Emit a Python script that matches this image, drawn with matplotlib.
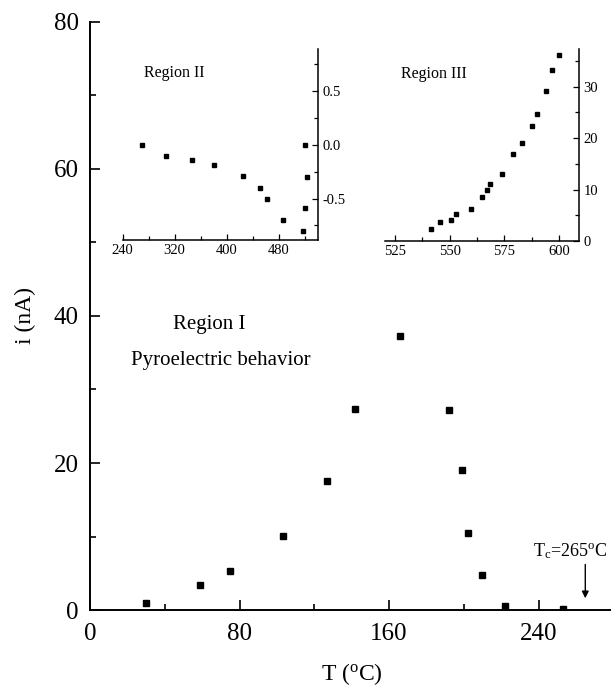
import matplotlib
matplotlib.use('Agg')
import matplotlib.pyplot as plt
import numpy as np

plt.rcParams['font.family'] = ['Liberation Serif', 'DejaVu Serif']
plt.rcParams['mathtext.fontset'] = 'custom'
plt.rcParams['mathtext.rm'] = 'Liberation Serif'
plt.rcParams['mathtext.it'] = 'Liberation Serif:italic'

# Region I: pyroelectric current peak
T1 = [30, 59, 75, 103, 127, 142, 166, 192, 199, 202, 210, 222, 253]
i1 = [1.0, 3.4, 5.3, 10.1, 17.5, 27.3, 37.3, 27.2, 19.1, 10.5, 4.7, 0.5, 0.2]

# Region II
T2 = [269, 306, 347, 381, 425, 452, 462, 486, 517, 520, 523, 520]
i2 = [0.0, -0.1, -0.146, -0.19, -0.29, -0.40, -0.50, -0.70, -0.80, -0.59, -0.30, 0.0]

# Region III
T3 = [541.6, 545.7, 550.6, 552.7, 559.9, 564.8, 566.9, 568.6, 573.8, 578.8,
      582.9, 587.8, 589.8, 594.0, 596.6, 600.0]
i3 = [2.3, 3.6, 4.0, 5.3, 6.2, 8.5, 9.9, 11.0, 13.1, 17.0,
      19.1, 22.4, 24.7, 29.1, 33.2, 36.2]

Tc = 265

fig = plt.figure(figsize=(6.11, 6.91), dpi=100)
ax = fig.add_axes([0.1473, 0.1172, 0.8565, 0.851])
ax.plot(T1, i1, 's', color='black', markersize=5)
ax.set_xlim(0, 280)
ax.set_ylim(0, 80)
ax.set_xticks([0, 80, 160, 240])
ax.set_xticks([40, 120, 200], minor=True)
ax.set_yticks([0, 20, 40, 60, 80])
ax.set_yticks([10, 30, 50, 70], minor=True)
for s in ['top', 'right']:
    ax.spines[s].set_visible(False)
for s in ['left', 'bottom']:
    ax.spines[s].set_linewidth(1.4)
ax.tick_params(which='both', direction='in', width=1.2, labelsize=18)
ax.tick_params(axis='x', pad=9)
ax.tick_params(axis='y', pad=8)
ax.tick_params(which='major', length=7)
ax.tick_params(which='minor', length=4.5)
ax.set_xlabel(r'T ($^{\mathrm{o}}$C)', fontsize=17, labelpad=12)
ax.set_ylabel('i (nA)', fontsize=17, labelpad=13)

ax.text(64, 38.8, 'Region I', fontsize=15, ha='center', va='center')
ax.text(70, 34.0, 'Pyroelectric behavior', fontsize=15, ha='center', va='center')
ax.text(257, 6.7, r'T$_\mathrm{c}$=265$^{\mathrm{o}}$C', fontsize=13, ha='center', va='bottom')
ax.annotate('', xy=(Tc, 1.6), xytext=(Tc, 6.2),
            arrowprops=dict(arrowstyle='-|>', color='black', lw=1.0,
                            mutation_scale=10, shrinkA=0, shrinkB=0))


def style_inset(a):
    for s in ['top', 'left']:
        a.spines[s].set_visible(False)
    for s in ['right', 'bottom']:
        a.spines[s].set_linewidth(1.1)
    a.yaxis.tick_right()
    a.tick_params(which='both', direction='in', width=0.9, labelsize=10.5, pad=3)
    a.tick_params(which='major', length=4)
    a.tick_params(which='minor', length=3)


ax2 = fig.add_axes([0.2008, 0.6527, 0.3201, 0.2764])
ax2.plot(T2, i2, 's', color='black', markersize=3.3)
ax2.set_xlim(240, 541)
ax2.set_ylim(-0.885, 0.89)
ax2.set_xticks([240, 320, 400, 480])
ax2.set_xticks([280, 360, 440, 520], minor=True)
ax2.set_yticks([-0.5, 0.0, 0.5])
ax2.set_yticks([-0.75, -0.25, 0.25, 0.75], minor=True)
ax2.set_yticklabels(['-0.5', '0.0', '0.5'])
style_inset(ax2)
ax2.text(0.262, 0.874, 'Region II', transform=ax2.transAxes, fontsize=11.5,
         ha='center', va='center')

ax3 = fig.add_axes([0.6301, 0.6512, 0.318, 0.2779])
ax3.plot(T3, i3, 's', color='black', markersize=3.3)
ax3.set_xlim(520.4, 609.3)
ax3.set_ylim(0, 37.3)
ax3.set_xticks([525, 550, 575, 600])
ax3.set_xticks([537.5, 562.5, 587.5], minor=True)
ax3.set_yticks([0, 10, 20, 30])
ax3.set_yticks([5, 15, 25, 35], minor=True)
style_inset(ax3)
ax3.text(0.252, 0.87, 'Region III', transform=ax3.transAxes, fontsize=11.5,
         ha='center', va='center')

fig.savefig('out.png', dpi=100)
